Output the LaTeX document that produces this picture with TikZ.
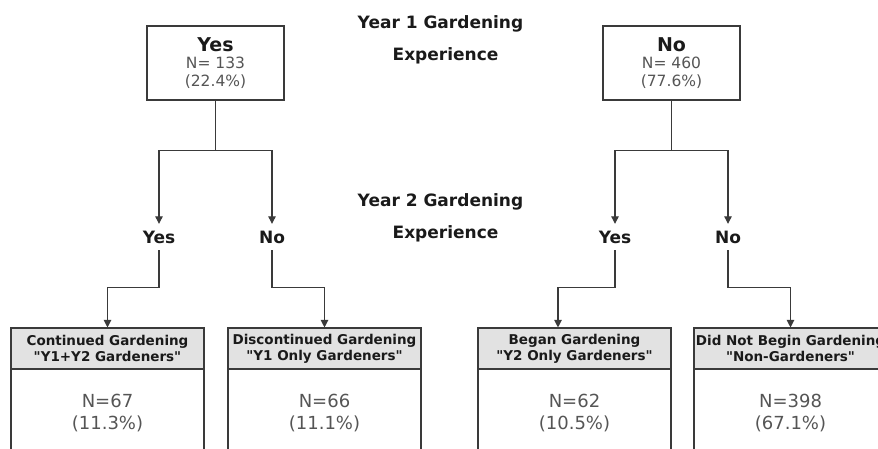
\documentclass[tikz,border=0pt]{standalone}
\usepackage{fontspec}
\setmainfont{DejaVu Sans}[Ligatures=TeXOff]
\usetikzlibrary{arrows.meta}
\definecolor{linecol}{HTML}{3A3A3A}
\definecolor{txtgray}{HTML}{555555}
\definecolor{txtdark}{HTML}{1A1A1A}
\definecolor{hdrfill}{HTML}{E2E2E2}
\begin{document}
\begin{tikzpicture}[x=1pt,y=-1pt,
  conn/.style={draw=linecol, line width=1.1pt},
  arr/.style={conn, -{Triangle[length=7.5pt,width=7.5pt]}},
  topbox/.style={draw=linecol, line width=1.1pt, minimum width=137pt, minimum height=74pt, inner sep=0pt, align=center, text=txtgray, font=\fontsize{15.5}{17.5}\selectfont},
  title/.style={anchor=base, text=txtdark, font=\fontsize{17}{17}\selectfont\bfseries, inner sep=0pt},
  lbl/.style={text=txtdark, font=\fontsize{17}{17}\selectfont\bfseries, inner sep=0pt, minimum height=26pt},
  hdr/.style={draw=linecol, line width=1.1pt, fill=hdrfill, minimum width=193pt, minimum height=41pt, inner sep=0pt, align=center, text=txtdark, font=\fontsize{13.5}{16}\selectfont\bfseries},
  body/.style={draw=linecol, line width=1.1pt, minimum width=193pt, minimum height=88pt, inner sep=0pt, align=center, text=txtgray, font=\fontsize{18}{22}\selectfont},
]
\useasboundingbox (0,0) rectangle (878,448);
\clip (0,0) rectangle (878,448);

% titles
\node[title] (t1a) at (440.5,28) {Year 1 Gardening};
\node[title] (t1b) at (445.5,60) {Experience};
\node[title] (t2a) at (440.5,206) {Year 2 Gardening};
\node[title] (t2b) at (445.5,238) {Experience};

% top boxes
\node[topbox] (tl) at (215.5,63) {{\fontsize{19}{19}\selectfont\bfseries\color{txtdark}Yes}\\N= 133\\(22.4\%)};
\node[topbox] (tr) at (671.5,63) {{\fontsize{19}{19}\selectfont\bfseries\color{txtdark}No}\\N= 460\\(77.6\%)};

% middle labels
\node[lbl] (y1) at (159,237) {Yes};
\node[lbl] (n1) at (272,237) {No};
\node[lbl] (y2) at (615,237) {Yes};
\node[lbl] (n2) at (728,237) {No};

% bottom boxes
\node[hdr] (b1h) at (107.5,348.5) {Continued Gardening\\"Y1+Y2 Gardeners"};
\node[body] (b1b) at (107.5,413) {N=67\\(11.3\%)};
\node[hdr] (b2h) at (324.5,348.5) {Discontinued Gardening\\"Y1 Only Gardeners"};
\node[body] (b2b) at (324.5,413) {N=66\\(11.1\%)};
\node[hdr] (b3h) at (574.5,348.5) {Began Gardening\\"Y2 Only Gardeners"};
\node[body] (b3b) at (574.5,413) {N=62\\(10.5\%)};
\node[hdr] (b4h) at (790.5,348.5) {Did Not Begin Gardening\\"Non-Gardeners"};
\node[body] (b4b) at (790.5,413) {N=398\\(67.1\%)};

% connectors
\draw[conn] (tl.south) -- ++(0,50) coordinate (j1);
\draw[arr] (j1) -| (y1.north);
\draw[arr] (j1) -| (n1.north);
\draw[conn] (tr.south) -- ++(0,50) coordinate (j2);
\draw[arr] (j2) -| (y2.north);
\draw[arr] (j2) -| (n2.north);

\draw[arr] (y1.south) -- ++(0,37) -| (b1h.north);
\draw[arr] (n1.south) -- ++(0,37) -| (b2h.north);
\draw[arr] (y2.south) -- ++(0,37) -| ([xshift=-16.5pt]b3h.north);
\draw[arr] (n2.south) -- ++(0,37) -| (b4h.north);
\end{tikzpicture}
\end{document}
